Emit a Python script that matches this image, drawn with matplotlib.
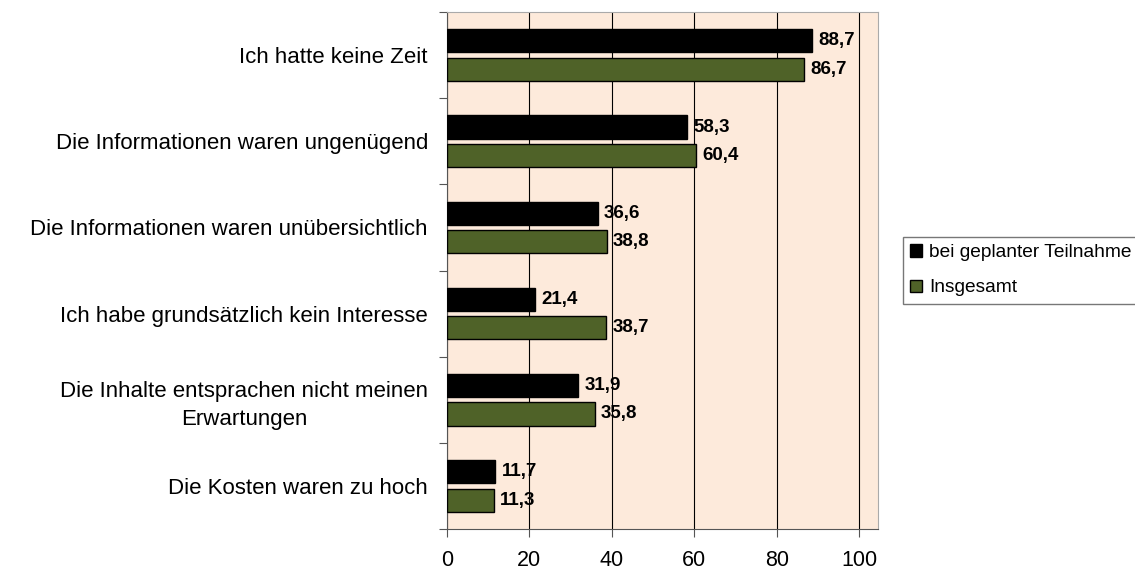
import numpy as np
import matplotlib.pyplot as plt

plt.rcParams['font.family'] = ['Liberation Sans', 'DejaVu Sans']

categories = [
    'Ich hatte keine Zeit',
    'Die Informationen waren ungenügend',
    'Die Informationen waren unübersichtlich',
    'Ich habe grundsätzlich kein Interesse',
    'Die Inhalte entsprachen nicht meinen\nErwartungen',
    'Die Kosten waren zu hoch',
]
geplant = [88.7, 58.3, 36.6, 21.4, 31.9, 11.7]
gesamt = [86.7, 60.4, 38.8, 38.7, 35.8, 11.3]
series_names = ['bei geplanter Teilnahme', 'Insgesamt']
xticks = [0, 20, 40, 60, 80, 100]

fig = plt.figure(figsize=(11.35, 5.72), dpi=100)
ax = fig.add_axes([447 / 1135, 1 - 529 / 572, 431 / 1135, 517 / 572])
ax.set_facecolor('#fdeadb')

y = np.arange(len(categories))
h = 0.27
off = 0.165
b1 = ax.barh(y - off, geplant, height=h, color='black', edgecolor='black',
             linewidth=1, label=series_names[0], zorder=3)
b2 = ax.barh(y + off, gesamt, height=h, color='#4f6228', edgecolor='black',
             linewidth=1, label=series_names[1], zorder=3)

for bars, vals in ((b1, geplant), (b2, gesamt)):
    for bar, v in zip(bars, vals):
        ax.text(v + 1.5, bar.get_y() + bar.get_height() / 2,
                f'{v:.1f}'.replace('.', ','), va='center', ha='left',
                fontsize=13.5, fontweight='bold', zorder=4)

ax.set_xlim(0, 104.6)
ax.set_ylim(len(categories) - 0.5, -0.5)
ax.set_xticks(xticks)
ax.set_xticklabels([str(t) for t in xticks], fontsize=15.5)
ax.xaxis.grid(True, color='black', linewidth=0.8, zorder=1)
ax.set_axisbelow(True)

# category boundaries get the tick marks, labels sit at the centres
ax.set_yticks(np.arange(len(categories) + 1) - 0.5, minor=False)
ax.set_yticklabels([])
ax.set_yticks(y, minor=True)
ax.set_yticklabels(categories, minor=True, fontsize=16, ha='right',
                   multialignment='center', linespacing=1.4)
ax.tick_params(axis='y', which='minor', length=0, pad=13.7)
ax.tick_params(axis='y', which='major', length=6, direction='out', color='#555555')
ax.tick_params(axis='x', length=6, color='#555555', pad=9)

for s in ('top', 'right'):
    ax.spines[s].set_color('#aaaaaa')
for s in ('left', 'bottom'):
    ax.spines[s].set_color('#555555')

leg = fig.legend(handles=[b1, b2], labels=series_names, loc='upper left',
                 bbox_to_anchor=(903 / 1135, 1 - 237 / 572), fontsize=13.8,
                 frameon=True, fancybox=False, handlelength=0.6, handleheight=0.6,
                 handletextpad=0.4, borderpad=0.38, labelspacing=0.95,
                 borderaxespad=0)
leg.get_frame().set_edgecolor('#555555')
leg.get_frame().set_linewidth(1)

fig.savefig('out.png', dpi=100)
